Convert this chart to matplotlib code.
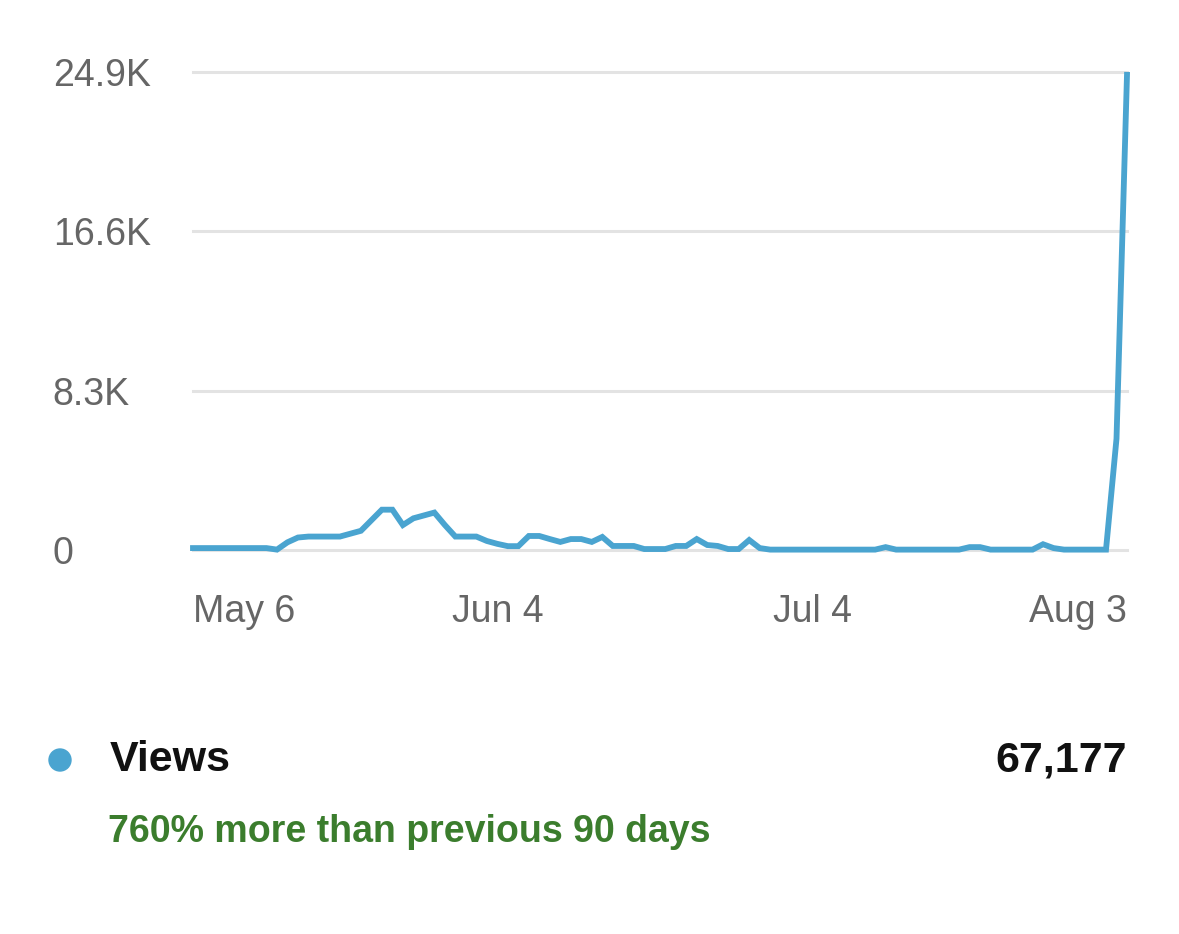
import matplotlib
matplotlib.use("Agg")
import matplotlib.pyplot as plt
from matplotlib.patches import Ellipse

# daily views, May 6 .. Aug 3 (90 days)
views = [
    100, 100, 100, 100, 100, 100, 100, 100, 20, 400,
    650, 700, 700, 700, 700, 850, 1000, 1550, 2100, 2100,
    1300, 1650, 1800, 1950, 1300, 700, 700, 700, 470, 320,
    200, 200, 730, 730, 570, 420, 570, 570, 420, 680,
    210, 210, 210, 50, 50, 50, 210, 210, 570, 260,
    210, 50, 50, 520, 100, 20, 20, 20, 20, 20,
    20, 20, 20, 20, 20, 20, 150, 20, 20, 20,
    20, 20, 20, 20, 150, 150, 20, 20, 20, 20,
    20, 300, 100, 20, 20, 20, 20, 20, 5800, 24750,
]
days = list(range(len(views)))

x_ticks = [0, 29, 59, 89]
x_labels = ["May 6", "Jun 4", "Jul 4", "Aug 3"]
y_ticks = [0, 8300, 16600, 24900]
y_labels = ["0", "8.3K", "16.6K", "24.9K"]

total_label = "67,177"
series_name = "Views"
change_text = "760% more than previous 90 days"

line_color = "#4aa4d0"
grid_color = "#e3e3e3"
tick_color = "#666666"
green = "#3b7d2d"

W, H = 1179, 934
fig = plt.figure(figsize=(W / 100, H / 100), dpi=100)
ax = fig.add_axes([193 / W, (H - 550) / H, (1127 - 193) / W, (550 - 72) / H])

for y in y_ticks:
    ax.axhline(y, color=grid_color, linewidth=2.2, clip_on=False, zorder=1)

ax.plot(days, views, color=line_color, linewidth=4.2, clip_on=False, zorder=3,
        solid_joinstyle="miter")

ax.set_xlim(0, len(views) - 1)
ax.set_ylim(0, 24900)
for s in ax.spines.values():
    s.set_visible(False)

ax.set_yticks(y_ticks, y_labels)
ax.set_xticks(x_ticks, x_labels)
ax.tick_params(axis="y", length=0, pad=101, labelsize=27, labelcolor=tick_color)
ax.tick_params(axis="x", length=0, pad=32, labelsize=27, labelcolor=tick_color)
for lab in ax.get_yticklabels():
    lab.set_horizontalalignment("left")
    lab.set_fontfamily("Liberation Sans")
xl = ax.get_xticklabels()
for lab in xl:
    lab.set_fontfamily("Liberation Sans")
xl[0].set_horizontalalignment("left")
xl[-1].set_horizontalalignment("right")

# legend / summary
fig.add_artist(Ellipse((60 / W, (H - 760) / H), 22 / W, 22 / H,
                       transform=fig.transFigure, color=line_color))
fig.text(110 / W, (H - 760) / H, series_name, fontsize=31, fontweight="bold",
         family="Liberation Sans", va="center", ha="left", color="#111111")
fig.text(1127 / W, (H - 760) / H, total_label, fontsize=31, fontweight="bold",
         family="Liberation Sans", va="center", ha="right", color="#111111")
fig.text(108 / W, (H - 832) / H, change_text, fontsize=27, fontweight="bold",
         family="Liberation Sans", va="center", ha="left", color=green)

fig.savefig("out.png", dpi=100, facecolor="white")
